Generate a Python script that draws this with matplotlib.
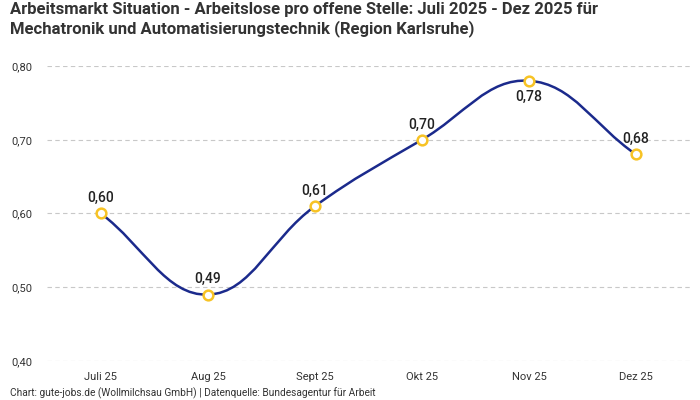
import matplotlib
matplotlib.use("Agg")
import matplotlib.pyplot as plt
import numpy as np
from matplotlib.path import Path
from matplotlib.patches import PathPatch

plt.rcParams['font.family'] = ['Roboto', 'DejaVu Sans']

# data
months = ["Juli 25", "Aug 25", "Sept 25", "Okt 25", "Nov 25", "Dez 25"]
values = [0.60, 0.49, 0.61, 0.70, 0.78, 0.68]
label_below = [False, False, False, False, True, False]
yticks = [0.40, 0.50, 0.60, 0.70, 0.80]

title = ("Arbeitsmarkt Situation - Arbeitslose pro offene Stelle: Juli 2025 - Dez 2025 für\n"
         "Mechatronik und Automatisierungstechnik (Region Karlsruhe)")
footer = "Chart: gute-jobs.de (Wollmilchsau GmbH) | Datenquelle: Bundesagentur für Arbeit"

line_col = '#1b2a8c'
mark_col = '#f7c325'
tension = 0.4

fig = plt.figure(figsize=(7, 4), dpi=100)
ax = fig.add_axes([47.5/700, 1-361/400, 642/700, 295/400])
x = np.arange(len(months))
ax.set_xlim(-0.5, len(months)-0.5)
ax.set_ylim(0.40, 0.80)

# smooth line (cubic bezier, chart.js style tension), built in pixel space
fig.canvas.draw()
pts = ax.transData.transform(np.column_stack([x, values]))
n = len(pts)
verts = [pts[0]]
codes = [Path.MOVETO]
cps = []
for i in range(n):
    prev = pts[i-1] if i > 0 else pts[i]
    nxt = pts[i+1] if i < n-1 else pts[i]
    d01 = np.hypot(*(pts[i]-prev))
    d12 = np.hypot(*(nxt-pts[i]))
    s01 = d01/(d01+d12) if d01+d12 else 0
    s12 = d12/(d01+d12) if d01+d12 else 0
    cps.append((pts[i] - tension*s01*(nxt-prev), pts[i] + tension*s12*(nxt-prev)))
for i in range(n-1):
    verts += [cps[i][1], cps[i+1][0], pts[i+1]]
    codes += [Path.CURVE4]*3
path = Path(ax.transData.inverted().transform(np.array(verts)), codes)
ax.add_patch(PathPatch(path, facecolor='none', edgecolor=line_col, lw=1.8, zorder=3))

ax.plot(x, values, 'o', ms=7, mfc='white', mec=mark_col, mew=1.8, zorder=4, clip_on=False)

for xi, v, below in zip(x, values, label_below):
    off = -12 if below else 11
    ax.annotate(f"{v:.2f}".replace('.', ','), (xi, v), xytext=(0, off), textcoords='offset points',
                ha='center', va='center', fontsize=10, fontweight='medium', color='#222222')

ax.set_yticks(yticks)
ax.set_yticklabels([f"{t:.2f}".replace('.', ',') for t in yticks])
ax.set_xticks(x)
ax.set_xticklabels(months)
ax.tick_params(axis='both', length=0, labelsize=8, colors='#333333')
ax.tick_params(axis='x', pad=8)
ax.tick_params(axis='y', pad=11)
ax.grid(axis='y', color='#c8c8c8', linestyle=(0, (4, 3)), lw=0.8)
ax.set_axisbelow(True)
for s in ax.spines.values():
    s.set_visible(False)

fig.text(10/700, 1-2/400, title, ha='left', va='top', fontsize=12, fontweight='bold',
         color='#333333', linespacing=1.2)
fig.text(10/700, 1-393/400, footer, ha='left', va='center', fontsize=7.3, color='#333333')

fig.savefig('out.png', dpi=100)
